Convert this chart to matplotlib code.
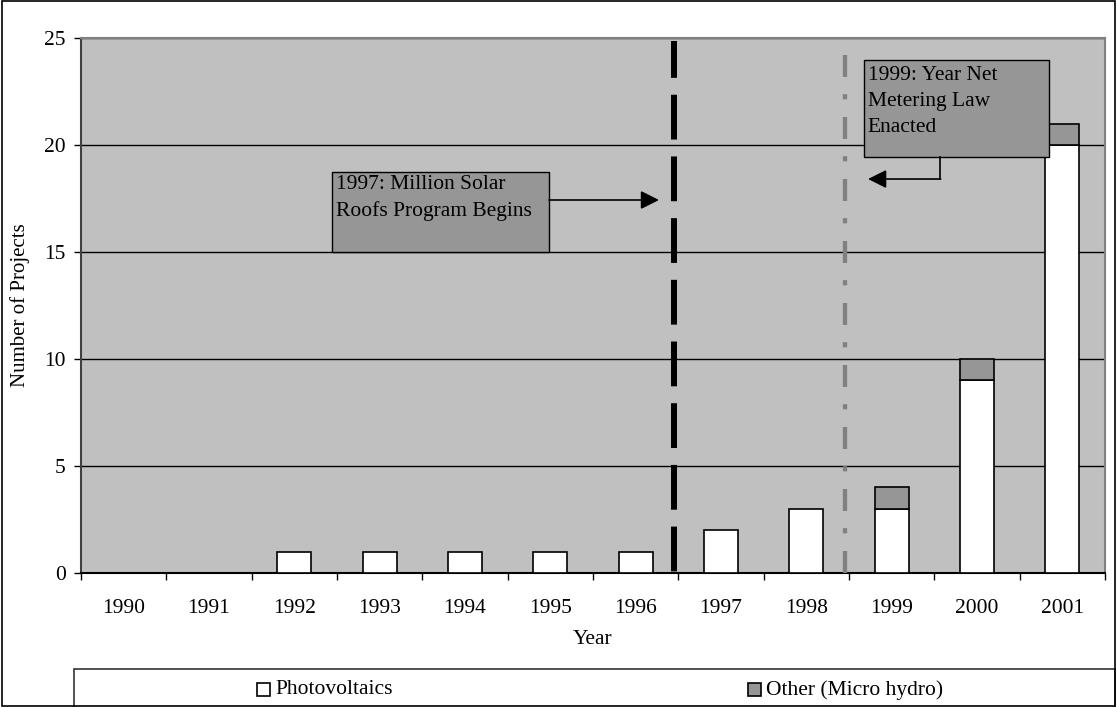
import numpy as np
import matplotlib.pyplot as plt
from matplotlib.patches import Rectangle

plt.rcParams['font.family'] = ['Liberation Serif', 'DejaVu Serif']

# project counts per year
years = ['1990', '1991', '1992', '1993', '1994', '1995',
         '1996', '1997', '1998', '1999', '2000', '2001']
photovoltaics = [0, 0, 1, 1, 1, 1, 1, 2, 3, 3, 9, 20]
micro_hydro = [0, 0, 0, 0, 0, 0, 0, 0, 0, 1, 1, 1]
series_names = ['Photovoltaics', 'Other (Micro hydro)']
series_colors = ['white', '#969696']

W, H = 1117, 707
fs = 15.5

fig = plt.figure(figsize=(W / 100, H / 100), dpi=100)
ax = fig.add_axes([81 / W, (H - 573) / H, 1024 / W, 535 / H])
ax.set_facecolor('#c0c0c0')

x = np.arange(len(years))
pv = np.array(photovoltaics)
oth = np.array(micro_hydro)

m = pv > 0
ax.bar(x[m], pv[m], 0.4, color=series_colors[0], edgecolor='black', lw=1.2, zorder=3)
m = oth > 0
ax.bar(x[m], oth[m], 0.4, bottom=pv[m], color=series_colors[1], edgecolor='black', lw=1.2, zorder=3)

ax.set_xlim(-0.5, len(years) - 0.5)
ax.set_ylim(0, 25)
ax.set_yticks(range(0, 26, 5))
ax.yaxis.grid(True, color='black', lw=1)
ax.set_axisbelow(True)

# ticks between categories, labels centred on the bars
ax.set_xticks(np.arange(-0.5, len(years), 1))
ax.set_xticklabels([])
ax.set_xticks(x, minor=True)
ax.set_xticklabels(years, minor=True, fontsize=fs)
ax.tick_params(axis='x', which='major', length=5, width=1, direction='out')
ax.tick_params(axis='x', which='minor', length=0, pad=18.5)
ax.tick_params(axis='y', length=5, width=1, direction='out', pad=6, labelsize=fs)

for side in ['top', 'right']:
    ax.spines[side].set_color('#808080')
    ax.spines[side].set_linewidth(1.5)
ax.spines['left'].set_color('#404040')
ax.spines['left'].set_linewidth(1.5)
ax.spines['bottom'].set_color('black')
ax.spines['bottom'].set_linewidth(1.5)

ax.set_xlabel('Year', fontsize=fs, labelpad=9)
ax.set_ylabel('Number of Projects', fontsize=fs - 0.5, labelpad=10)

# policy markers
ax.plot([6.453, 6.453], [24.86, 0], color='black', lw=4.3,
        ls=(1.33, (7.5, 2.83)), zorder=4)
ax.plot([8.453, 8.453], [24.2, 0], color='#808080', lw=3.1,
        ls=(0, (5.1, 4.0, 1.2, 4.1)), zorder=4)

# callout boxes
ax.add_patch(Rectangle((2.441, 15.0), 2.544, 3.74, facecolor='#969696',
                       edgecolor='black', lw=1, zorder=5))
ax.text(2.49, 18.62, '1997: Million Solar\nRoofs Program Begins', fontsize=fs,
        va='top', ha='left', linespacing=1.5, zorder=6)
ax.annotate('', xy=(6.274, 17.43), xytext=(4.985, 17.43),
            arrowprops=dict(arrowstyle='-|>', color='black', lw=1.2,
                            mutation_scale=28, shrinkA=0, shrinkB=0), zorder=6)

ax.add_patch(Rectangle((8.676, 19.44), 2.168, 4.53, facecolor='#969696',
                       edgecolor='black', lw=1, zorder=5))
ax.text(8.72, 23.7, '1999: Year Net\nMetering Law\nEnacted', fontsize=fs,
        va='top', ha='left', linespacing=1.5, zorder=6)
ax.plot([9.567, 9.567], [19.44, 18.41], color='black', lw=1.2, zorder=6)
ax.annotate('', xy=(8.723, 18.41), xytext=(9.567 + 0.007, 18.41),
            arrowprops=dict(arrowstyle='-|>', color='black', lw=1.2,
                            mutation_scale=28, shrinkA=0, shrinkB=0), zorder=6)

# legend strip along the bottom
fig.patches.append(Rectangle((74 / W, -0.002), (1115 - 74) / W, (707 - 669) / H + 0.002,
                             transform=fig.transFigure, facecolor='white',
                             edgecolor='#333333', lw=1.2))
for name, col, px in zip(series_names, series_colors, [257, 748]):
    fig.patches.append(Rectangle((px / W, (H - 696) / H), 13 / W, 13 / H,
                                 transform=fig.transFigure, facecolor=col,
                                 edgecolor='black', lw=1.2))
    fig.text((px + 18) / W, (H - 690) / H, name, fontsize=fs, va='center', ha='left')

# chart border
fig.patches.append(Rectangle((2 / W, 1 / H), 1113 / W, 705 / H,
                             transform=fig.transFigure, fill=False,
                             edgecolor='black', lw=1.2))

fig.savefig('out.png', dpi=100)
